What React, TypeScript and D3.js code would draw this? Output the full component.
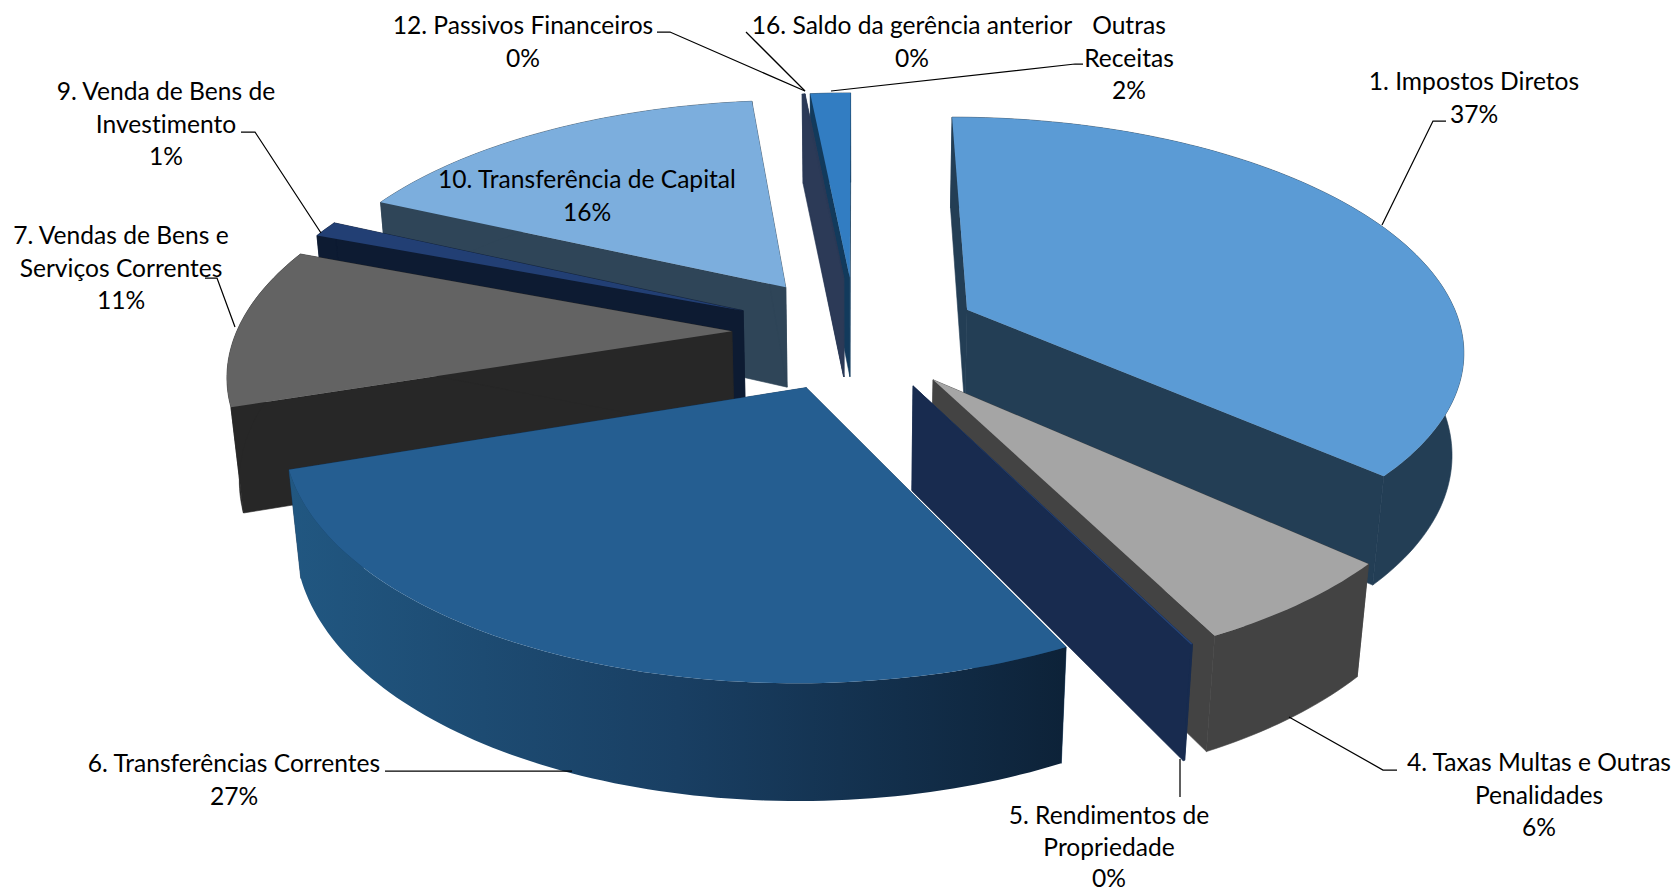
import * as d3 from "d3";

const WIDTH = 1677;
const HEIGHT = 892;

// chart values, slice order as in the legend numbering
const categories = [
  "1. Impostos Diretos",
  "4. Taxas Multas e Outras Penalidades",
  "5. Rendimentos de Propriedade",
  "6. Transferências Correntes",
  "7. Vendas de Bens e Serviços Correntes",
  "9. Venda de Bens de Investimento",
  "10. Transferência de Capital",
  "12. Passivos Financeiros",
  "16. Saldo da gerência anterior",
  "Outras Receitas",
];
const shares = [36.7, 5.9, 0.05, 27.25, 10.9, 1.1, 16.45, 0.05, 0.05, 1.55];
const percentLabels = ["37%", "6%", "0%", "27%", "11%", "1%", "16%", "0%", "0%", "2%"];

// styles per slice
const topColors = ["#5B9BD5", "#A5A5A5", "#264478", "#255E91", "#636363", "#223F74", "#7CAEDD", "#2C3A57", "#2C3A57", "#327DC2"];
const wallColors = ["#233E55", "#434343", "#182B4F", "#14385A", "#272727", "#0D1B32", "#2F4558", "#2C3A57", "#2C3A57", "#123A5C"];

// where each text block sits, and its leader line
const labelLayout = [
  { lines: ["1. Impostos Diretos"], x: 1474, y: 90, gap: 32.6, leader: [[1382, 225], [1433, 121], [1446, 121]] },
  { lines: ["4. Taxas Multas e Outras", "Penalidades"], x: 1539, y: 771, gap: 32.6, leader: [[1289, 717], [1383, 770], [1397, 770]] },
  { lines: ["5. Rendimentos de", "Propriedade"], x: 1109, y: 824, gap: 31.6, leader: [[1180, 759], [1180, 797]] },
  { lines: ["6. Transferências Correntes"], x: 234, y: 772, gap: 32.6, leader: [[572, 771], [398, 771], [385, 771]] },
  { lines: ["7. Vendas de Bens e", "Serviços Correntes"], x: 121, y: 244, gap: 32.6, leader: [[235, 327], [217, 278], [205, 278]] },
  { lines: ["9. Venda de Bens de", "Investimento"], x: 166, y: 100, gap: 32.6, leader: [[321, 233], [255, 132], [241, 132]] },
  { lines: ["10. Transferência de Capital"], x: 587, y: 188, gap: 32.6, leader: [] },
  { lines: ["12. Passivos Financeiros"], x: 523, y: 34, gap: 32.6, leader: [[805, 91], [670, 32], [657, 32]] },
  { lines: ["16. Saldo da gerência anterior"], x: 912, y: 34, gap: 32.6, leader: [[805, 91], [746, 32]] },
  { lines: ["Outras", "Receitas"], x: 1129, y: 34, gap: 32.6, leader: [[831, 91], [1075, 64], [1083, 64]] },
];

// camera for the tilted pie: radius 1, thickness in the same unit
const cx = 855.6;
const cy = 332.6;
const focal = 2785;
const distance = 5.62;
const tilt = (27.6 * Math.PI) / 180;
const thickness = 0.237;
const explode = 0.25;

function project(X: number, Y: number, Z: number): [number, number] {
  const yc = Y * Math.sin(tilt) + Z * Math.cos(tilt);
  const zc = distance + Y * Math.cos(tilt) - Z * Math.sin(tilt);
  return [cx + (focal * X) / zc, cy - (focal * yc) / zc];
}

const pieAngles = d3.pie<number>().sort(null)(shares);
const linePath = d3.line();
const closed = (pts: [number, number][]) => linePath(pts) + "Z";

const slices = pieAngles.map((p) => {
  const mid = (p.startAngle + p.endAngle) / 2;
  const ox = explode * Math.sin(mid);
  const oy = explode * Math.cos(mid);
  const steps = Math.max(2, Math.ceil((p.endAngle - p.startAngle) / 0.02));
  const angles = d3.range(steps + 1).map((i) => p.startAngle + ((p.endAngle - p.startAngle) * i) / steps);
  const rim = (z: number) =>
    angles.map((a) => project(ox + Math.sin(a), oy + Math.cos(a), z));
  const apexTop = project(ox, oy, 0);
  const apexBottom = project(ox, oy, -thickness);
  const rimTop = rim(0);
  const rimBottom = rim(-thickness);
  return {
    index: p.index,
    mid,
    depth: oy,
    top: closed([apexTop, ...rimTop]),
    startWall: closed([apexTop, rimTop[0], rimBottom[0], apexBottom]),
    endWall: closed([apexTop, rimTop[steps], rimBottom[steps], apexBottom]),
    outerWall: closed([...rimTop, ...rimBottom.slice().reverse()]),
  };
});

// far slices first so the near ones paint over them
const drawOrder = slices.slice().sort((a, b) => d3.descending(a.depth, b.depth));

export default function App() {
  return (
    <svg
      width={WIDTH}
      height={HEIGHT}
      viewBox={`0 0 ${WIDTH} ${HEIGHT}`}
      style={{ position: "fixed", left: 0, top: 0, background: "#fff" }}
      role="img"
      aria-label={categories.join(", ")}
    >
      <defs>
        <linearGradient id="wall-6" x1="0" y1="0" x2="1" y2="0">
          <stop offset="0%" stopColor="#215781" />
          <stop offset="50%" stopColor="#193F63" />
          <stop offset="100%" stopColor="#0D2238" />
        </linearGradient>
      </defs>
      {drawOrder.map((s) => {
        const wall = wallColors[s.index];
        const isGradient = s.index === 3;
        return (
          <g key={s.index}>
            <path d={s.startWall} fill={wall} stroke={wall} strokeWidth={0.6} />
            <path d={s.endWall} fill={wall} stroke={wall} strokeWidth={0.6} />
            <path
              d={s.outerWall}
              fill={isGradient ? "url(#wall-6)" : wall}
              stroke={isGradient ? "none" : wall}
              strokeWidth={0.6}
            />
            <path d={s.top} fill={topColors[s.index]} />
          </g>
        );
      })}
      {labelLayout.map((l, i) =>
        l.leader.length ? (
          <path
            key={i}
            d={linePath(l.leader as [number, number][]) ?? ""}
            fill="none"
            stroke="#000"
            strokeWidth={1.25}
          />
        ) : null,
      )}
      {labelLayout.map((l, i) => (
        <text
          key={i}
          x={l.x}
          y={l.y}
          textAnchor="middle"
          fontFamily="Lato, 'Open Sans', sans-serif"
          fontSize={24.6}
          fill="#000"
          style={{ fontVariantLigatures: "none" }}
        >
          {[...l.lines, percentLabels[i]].map((t, j) => (
            <tspan key={j} x={l.x} dy={j === 0 ? 0 : l.gap}>
              {t}
            </tspan>
          ))}
        </text>
      ))}
    </svg>
  );
}
